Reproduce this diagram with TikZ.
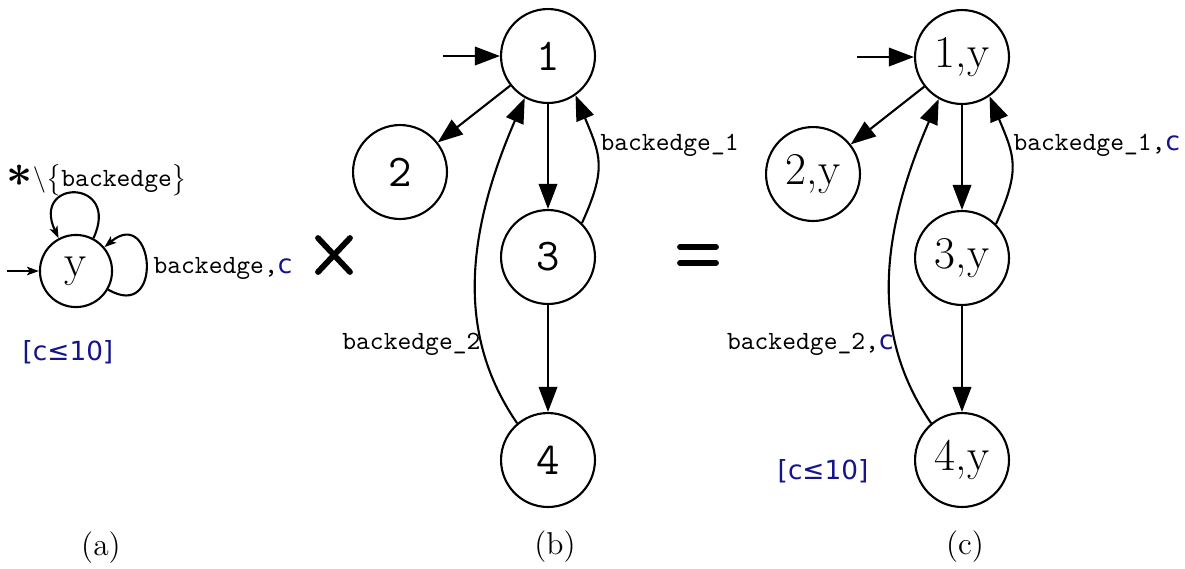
\documentclass[tikz,border=0pt]{standalone}
\usepackage{fontspec}
\newfontfamily\djv{DejaVu Sans}
\usetikzlibrary{arrows.meta}
\definecolor{cblue}{RGB}{20,20,140}
\begin{document}
\begin{tikzpicture}[x=0.38pt,y=-0.38pt,
  st/.style={circle,draw,line width=0.8pt,minimum size=35.7pt,inner sep=0pt,font=\LARGE},
  tst/.style={st,font=\LARGE\ttfamily},
  sst/.style={circle,draw,line width=0.8pt,minimum size=27.4pt,inner sep=0pt,font=\LARGE},
  arr/.style={line width=0.8pt,-{Triangle[length=9.5pt,width=7pt]}},
  sarr/.style={line width=0.8pt,-{Stealth[length=4.5pt,width=3.2pt,inset=1pt]}},
  lbl/.style={inner sep=0pt,font=\ttfamily},
  guard/.style={inner sep=0pt,font=\djv,text=cblue},
  capt/.style={inner sep=0pt,font=\large},
  opline/.style={line width=2.2pt,line cap=round}]
\useasboundingbox (0,0) rectangle (1185,568);
% (a)
\node[sst] (y) at (76,271) {y};
\coordinate (ya) at (7,271);
\draw[sarr] (ya) -- (y);
\draw[sarr] (y.62) .. controls +(28,-60) and +(-28,-60) .. (y.118);
\draw[sarr] (y.-30) .. controls +(56,33) and +(50,-42) .. (y.40);
\node[inner sep=0pt] (ylab) at (97,180) {{\LARGE\boldmath$\ast$}$\backslash\bigl\{$\texttt{backedge}$\bigr\}$};
\node[lbl,anchor=west] (yl2) at (153,268) {backedge,{\djv\color{cblue}c}};
\node[guard] (g1) at (68,352) {[c≤10]};
% times
\draw[opline] (318,238) -- (350,272);
\draw[opline] (350,238) -- (318,272);
% (b)
\node[tst] (n1) at (548,56) {1};
\node[tst] (n2) at (400,172) {2};
\node[tst] (n3) at (548,257) {3};
\node[tst] (n4) at (548,460) {4};
\coordinate (n0) at (443,56);
\draw[arr] (n0) -- (n1);
\draw[arr] (n1) -- (n2);
\draw[arr] (n1) -- (n3);
\draw[arr] (n3) -- (n4);
\draw[arr] (n3.45) .. controls +(25,-55) and +(25,60) .. (n1.-55);
\draw[arr] (n4.130) .. controls +(-55,-80) and +(-65,150) .. (n1.-119);
\node[lbl,anchor=west] (b1) at (600,145) {backedge\_1};
\node[lbl,anchor=east] (b2) at (481,344) {backedge\_2};
% equals
\draw[opline] (680,247) -- (716,247);
\draw[opline] (680,263) -- (716,263);
% (c)
\node[st] (m1) at (962,57) {1,y};
\node[st] (m2) at (813,174) {2,y};
\node[st] (m3) at (962,258) {3,y};
\node[st] (m4) at (962,460) {4,y};
\coordinate (m0) at (857,57);
\draw[arr] (m0) -- (m1);
\draw[arr] (m1) -- (m2);
\draw[arr] (m1) -- (m3);
\draw[arr] (m3) -- (m4);
\draw[arr] (m3.45) .. controls +(25,-55) and +(25,60) .. (m1.-55);
\draw[arr] (m4.130) .. controls +(-55,-80) and +(-65,150) .. (m1.-119);
\node[lbl,anchor=west] (c1) at (1013,145) {backedge\_1,{\djv\color{cblue}c}};
\node[lbl,anchor=east] (c2) at (894,344) {backedge\_2,{\djv\color{cblue}c}};
\node[guard] (g2) at (823,471) {[c≤10]};
% captions
\node[capt] (ca) at (101,548) {(a)};
\node[capt] (cb) at (555,547) {(b)};
\node[capt] (cc) at (965,547) {(c)};
\end{tikzpicture}
\end{document}
